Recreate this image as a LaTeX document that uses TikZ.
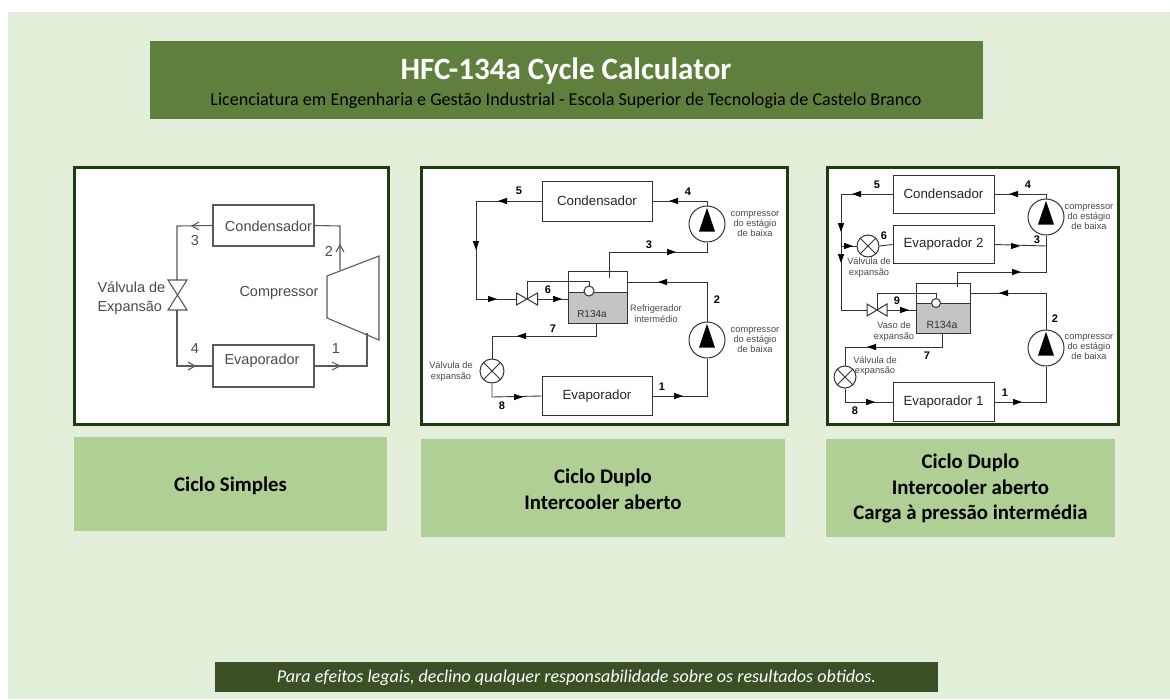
\documentclass[tikz,border=0pt]{standalone}
\usepackage{fontspec}
\setmainfont{Carlito}
\newfontfamily\arialf{Liberation Sans}
\usetikzlibrary{arrows.meta}
\definecolor{pagebg}{HTML}{E3EEDB}
\definecolor{titlebg}{HTML}{5F7F3D}
\definecolor{footbg}{HTML}{3B5125}
\definecolor{capbg}{HTML}{AFCF94}
\definecolor{framec}{HTML}{1E3B10}
\definecolor{inkc}{HTML}{333333}
\definecolor{labc}{HTML}{4A4A4A}
\definecolor{tankc}{HTML}{C4C4C4}
\definecolor{onec}{HTML}{5A5A5A}
\tikzset{
  x=1pt,y=-1pt,
  panel/.style={draw=framec,line width=3pt,fill=white},
  capbox/.style={fill=capbg,inner sep=0pt},
  dbox/.style={draw=inkc,line width=1pt,fill=white,anchor=center,inner sep=0pt},
  pipe/.style={draw=inkc,line width=.9pt},
  oneline/.style={draw=onec,line width=1.1pt},
  captxt/.style={font=\bfseries\fontsize{20.8}{25.5}\selectfont,align=center,text=black},
  lab1/.style={font=\arialf\fontsize{14.5}{16}\selectfont,text=labc},
  big/.style={font=\arialf\fontsize{13.3}{15}\selectfont,text=black!85},
  small/.style={font=\arialf\fontsize{9.3}{10.4}\selectfont,text=labc,align=center},
  num/.style={font=\arialf\bfseries\fontsize{11}{12}\selectfont,text=black},
}
\newcommand{\tipR}[2]{\fill[black] (#1,#2) -- ++(-9,-3.2) -- ++(0,6.4) -- cycle;}
\newcommand{\tipL}[2]{\fill[black] (#1,#2) -- ++(9,-3.2) -- ++(0,6.4) -- cycle;}
\newcommand{\tipD}[2]{\fill[black] (#1,#2) -- ++(-3.2,-9) -- ++(6.4,0) -- cycle;}
\newcommand{\pumpdraw}[4]{%
  \node[circle,draw=inkc,line width=1pt,fill=white,minimum size=#4*2pt,inner sep=0pt] (#1) at (#2,#3) {};
  \fill[black] (#2,#3-#4*.9) -- (#2-8,#3+#4*.42) -- (#2+8,#3+#4*.42) -- cycle;}
\newcommand{\xvalve}[4]{%
  \node[circle,draw=inkc,line width=1pt,fill=white,minimum size=#4*2pt,inner sep=0pt] (#1) at (#2,#3) {};
  \draw[inkc,line width=1pt] (#1.45) -- (#1.225) (#1.135) -- (#1.315);}
\newcommand{\bowvalve}[4]{%
  \coordinate (#1) at (#2,#3);
  \draw[inkc,line width=1pt,fill=white] (#2-#4,#3-6) -- (#2+#4,#3+6) -- (#2+#4,#3-6) -- (#2-#4,#3+6) -- cycle;
  \coordinate (#1l) at (#2-#4,#3);\coordinate (#1r) at (#2+#4,#3);}
\begin{document}
\begin{tikzpicture}
\useasboundingbox (0,0) rectangle (1170,699);
\fill[white] (0,0) rectangle (1170,699);
\fill[pagebg] (8,12) rectangle (1170,699);
% title
\node[fill=titlebg,minimum width=833pt,minimum height=78pt,inner sep=0pt] (title) at (566.5,80) {};
\node[font=\bfseries\fontsize{31}{34}\selectfont,text=white] (t1) at (566,71) {HFC-134a Cycle Calculator};
\node[font=\fontsize{18.1}{22}\selectfont,text=black] (t2) at (566,101) {Licenciatura em Engenharia e Gestão Industrial - Escola Superior de Tecnologia de Castelo Branco};
% footer
\node[fill=footbg,minimum width=723pt,minimum height=30pt,inner sep=0pt] (foot) at (576.5,677) {};
\node[text=white,font=\itshape\fontsize{18.05}{22}\selectfont] (foott) at (576.5,677.5) {Para efeitos legais, declino qualquer responsabilidade sobre os resultados obtidos.};
% panels
\draw[panel] (74,167) rectangle (388.5,424.5);
\draw[panel] (421,167) rectangle (787,424.5);
\draw[panel] (827,167) rectangle (1118.5,424.5);
% captions
\node[capbox,minimum width=313pt,minimum height=94pt] (c1) at (230.5,484) {};
\node[capbox,minimum width=364pt,minimum height=98pt] (c2) at (603,488) {};
\node[capbox,minimum width=289pt,minimum height=98pt] (c3) at (970.5,488) {};
\node[captxt] (c1t) at (230.5,486) {Ciclo Simples};
\node[captxt] (c2t) at (603,489.5) {Ciclo Duplo\\Intercooler aberto};
\node[captxt] (c3t) at (970.5,488.5) {Ciclo Duplo\\Intercooler aberto\\Carga à pressão intermédia};
% ---------- panel 1
\node[dbox,oneline,minimum width=101pt,minimum height=41pt] (a-cond) at (263.5,225.5) {};
\node[dbox,oneline,minimum width=101pt,minimum height=42pt] (a-evap) at (263.5,366) {};
\node[lab1] (a-condt) at (268.5,226.5) {Condensador};
\node[lab1] (a-evapt) at (262,361) {Evaporador};
\coordinate (a-v) at (177,295);
\draw[oneline,fill=white] (168,280) -- (187,280) -- (168,310) -- (187,310) -- cycle;
\coordinate (a-vt) at (177,280);\coordinate (a-vb) at (177,310);
\coordinate (a-c1) at (367,333);\coordinate (a-c2) at (340,270);
\draw[oneline,fill=white] (327,276) -- (379,256) -- (379,340) -- (327,318) -- cycle;
\draw[oneline] (a-cond.west) -- (177,226) -- (a-vt);
\draw[oneline] (a-vb) -- (177,366) -- (a-evap.west);
\draw[oneline] (a-evap.east) -- (367,366) -- (a-c1);
\draw[oneline] (a-c2) -- (340,226) -- (a-cond.east);
\draw[oneline] (199,222) -- (192,226) -- (199,230);
\draw[oneline] (188,362) -- (195,366) -- (188,370);
\draw[oneline] (332,362) -- (340,366) -- (332,370);
\draw[oneline] (336,252) -- (340,245) -- (344,252);
\node[lab1] (a3) at (195,241) {3};
\node[lab1] (a2) at (329,251) {2};
\node[lab1] (a4) at (195,349) {4};
\node[lab1] (a1) at (336,349) {1};
\node[lab1,anchor=west] (a-v1) at (94,287) {Válvula de};
\node[lab1,anchor=west] (a-v2) at (94,308) {Expansão};
\node[lab1] (a-ct) at (279,292.5) {Compressor};
% ---------- panel 2
\node[dbox,minimum width=110pt,minimum height=40pt,big] (b-cond) at (597,201) {Condensador};
\node[dbox,minimum width=110pt,minimum height=39pt,big] (b-evap) at (597,396) {Evaporador};
\pumpdraw{b-p2}{707}{224}{18}
\pumpdraw{b-p1}{707}{340}{18}
\xvalve{b-x}{492}{371}{12}
\draw[inkc,line width=1pt,fill=white] (568,271) rectangle (627,323);
\fill[tankc] (568,292) rectangle (627,323);
\draw[inkc,line width=1pt] (568,271) rectangle (627,323) (568,292) -- (627,292);
\coordinate (b-t3) at (609,278);\coordinate (b-tr) at (627,282);\coordinate (b-tb) at (596,323);\coordinate (b-tl) at (568,299);
\node[circle,draw=inkc,line width=1pt,fill=white,minimum size=10pt,inner sep=0pt] (b-ball) at (589,291) {};
\bowvalve{b-v}{527}{299}{10.5}
\draw[pipe] (b-evap.east) -- (707,396) -- (b-p1.south);
\draw[pipe] (b-p1.north) -- (707,282) -- (b-tr);
\draw[pipe] (b-t3) -- (609,252) -- (707,252) -- (b-p2.south);
\draw[pipe] (b-p2.north) -- (707,201) -- (b-cond.east);
\draw[pipe] (b-cond.west) -- (476,201) -- (476,299) -- (b-vl);
\draw[pipe] (b-vr) -- (b-tl);
\draw[pipe] (b-ball.north) -- (589,281) -- (527,281) -- (b-v);
\draw[pipe] (b-tb) -- (596,336) -- (492,336) -- (b-x.north);
\draw[pipe] (b-x.south) -- (492,397) -- (b-evap.west);
\tipL{498}{201}\tipD{476}{250}\tipR{497}{299}\tipR{562}{299}\tipR{676}{252}\tipL{669}{201}\tipL{658}{282}\tipL{517}{336}\tipR{523}{397}\tipR{683}{396}
\node[font=\arialf\fontsize{10}{13}\selectfont,text=black!80] (b-r) at (592,314) {R134a};
\node[num] (b5) at (519,191) {5};\node[num] (b4) at (688,192) {4};\node[num] (b3) at (649,245) {3};\node[num] (b6) at (548,290) {6};
\node[num] (b2) at (717,300) {2};\node[num] (b7) at (553,329) {7};\node[num] (b8) at (502,406) {8};\node[num] (b1) at (662,387) {1};
\node[small] (b-l1) at (755,224) {compressor\\do estágio\\de baixa};
\node[small] (b-l2) at (755,340) {compressor\\do estágio\\de baixa};
\node[small] (b-l3) at (656,313.5) {Refrigerador\\intermédio};
\node[small] (b-l4) at (451,371.5) {Válvula de\\expansão};
% ---------- panel 3
\node[dbox,minimum width=101pt,minimum height=38pt,big] (c-cond) at (943.5,194) {Condensador};
\node[dbox,minimum width=101pt,minimum height=38pt,big] (c-ev2) at (943.5,244.5) {Evaporador 2};
\node[dbox,minimum width=101pt,minimum height=39pt,big] (c-ev1) at (943.5,402) {Evaporador 1};
\pumpdraw{c-p2}{1046}{217}{18}
\pumpdraw{c-p1}{1046}{348}{18}
\xvalve{c-x2}{868}{246}{11}
\xvalve{c-x1}{845}{377}{11}
\draw[inkc,line width=1pt,fill=white] (916,283) rectangle (970,333);
\fill[tankc] (916,303) rectangle (970,333);
\draw[inkc,line width=1pt] (916,283) rectangle (970,333) (916,303) -- (970,303);
\coordinate (c-t3) at (957,287);\coordinate (c-tr) at (970,293);\coordinate (c-tb) at (942,333);\coordinate (c-tl) at (916,310);
\node[circle,draw=inkc,line width=1pt,fill=white,minimum size=9pt,inner sep=0pt] (c-ball) at (936,303) {};
\bowvalve{c-v}{877}{310}{10}
\draw[pipe] (c-ev1.east) -- (1046,402) -- (c-p1.south);
\draw[pipe] (c-p1.north) -- (1046,293) -- (c-tr);
\draw[pipe] (c-t3) -- (957,272) -- (1046,272) -- (c-p2.south);
\draw[pipe] (c-ev2.east) -- (1046,246);
\draw[pipe] (c-p2.north) -- (1046,194) -- (c-cond.east);
\draw[pipe] (c-cond.west) -- (841,194) -- (841,310) -- (c-vl);
\draw[pipe] (c-vr) -- (c-tl);
\draw[pipe] (841,246) -- (c-x2.west);
\draw[pipe] (c-x2.east) -- (c-ev2.west);
\draw[pipe] (c-ball.north) -- (936,293) -- (877,293) -- (c-v);
\draw[pipe] (c-tb) -- (942,347) -- (845,347) -- (c-x1.north);
\draw[pipe] (c-x1.south) -- (845,402) -- (c-ev1.west);
\tipL{852}{194}\tipD{841}{232}\tipD{841}{263}\tipR{853}{246}\tipR{909}{310}\tipR{1020}{246}\tipR{1021}{272}\tipL{1009}{194}\tipL{999}{293}\tipL{867}{347}\tipR{875}{402}\tipR{1022}{402}
\node[font=\arialf\fontsize{10.5}{13}\selectfont,text=black!80] (c-r) at (942,325) {R134a};
\node[num] (c5) at (877,185) {5};\node[num] (c4) at (1028,185) {4};\node[num] (c6) at (884,236) {6};\node[num] (c3) at (1037,240) {3};
\node[num] (c9) at (897,301) {9};\node[num] (c2) at (1055,319) {2};\node[num] (c7) at (927,356) {7};\node[num] (c8) at (855,411) {8};\node[num] (c1) at (1005,393) {1};
\node[small] (c-l1) at (1089,217) {compressor\\do estágio\\de baixa};
\node[small] (c-l2) at (1089,347) {compressor\\do estágio\\de baixa};
\node[small] (c-l3) at (869,267.5) {Válvula de\\expansão};
\node[small] (c-l4) at (894,331.5) {Vaso de\\expansão};
\node[small] (c-l5) at (875,366) {Válvula de\\expansão};
\end{tikzpicture}
\end{document}
